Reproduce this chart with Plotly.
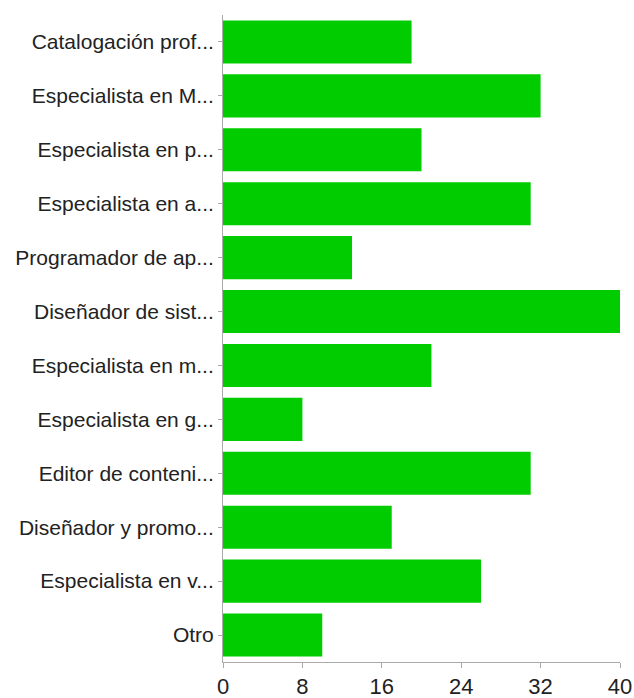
import plotly.graph_objects as go

categories = [
    "Catalogación prof...",
    "Especialista en M...",
    "Especialista en p...",
    "Especialista en a...",
    "Programador de ap...",
    "Diseñador de sist...",
    "Especialista en m...",
    "Especialista en g...",
    "Editor de conteni...",
    "Diseñador y promo...",
    "Especialista en v...",
    "Otro",
]
values = [19, 32, 20, 31, 13, 40, 21, 8, 31, 17, 26, 10]
x_ticks = [0, 8, 16, 24, 32, 40]

fig = go.Figure(go.Bar(
    x=values,
    y=categories,
    orientation="h",
    marker=dict(color="#00cc00", line=dict(width=0)),
    hoverinfo="x+y",
))

fig.update_layout(
    width=634,
    height=698,
    margin=dict(l=223, r=14, t=15, b=36),
    paper_bgcolor="white",
    plot_bgcolor="white",
    bargap=0.2,
    font=dict(family="Liberation Sans, Arial, sans-serif", size=21, color="#222222"),
    showlegend=False,
)
fig.update_xaxes(
    range=[0, 40],
    tickvals=x_ticks,
    showgrid=False,
    zeroline=False,
    showline=True,
    linecolor="#aaaaaa",
    linewidth=1,
    ticks="outside",
    ticklen=5,
    tickcolor="#aaaaaa",
    tickfont=dict(size=22),
    automargin=False,
)
fig.update_yaxes(
    categoryorder="array",
    categoryarray=categories[::-1],
    showgrid=False,
    zeroline=False,
    showline=True,
    linecolor="#aaaaaa",
    linewidth=1,
    ticks="outside",
    ticklen=4,
    tickcolor="#aaaaaa",
    tickfont=dict(size=21),
    automargin=False,
)

fig.write_html(
    "out.html",
    config={"displayModeBar": False},
    post_script="document.body.style.margin='0';",
)
